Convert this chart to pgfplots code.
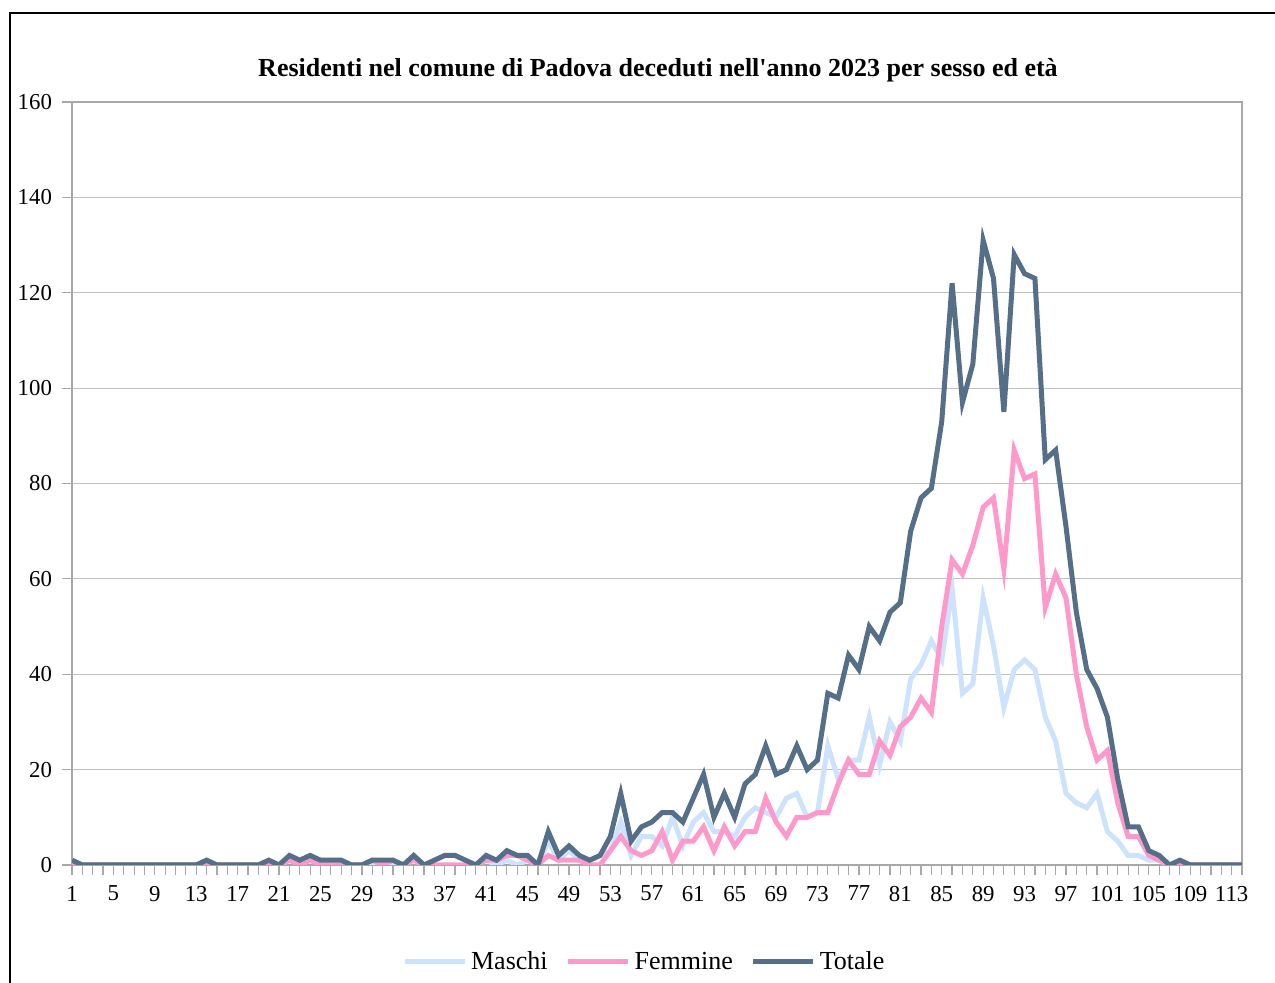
\documentclass[border=0pt]{standalone}
\usepackage{fontspec}
\setmainfont{Liberation Serif}
\usepackage{pgfplots}
\usepackage{pgfplotstable}
\pgfplotsset{compat=1.18}

\definecolor{maschi}{RGB}{205,227,253}
\definecolor{femmine}{RGB}{255,153,204}
\definecolor{totale}{RGB}{85,111,136}
\definecolor{gridgray}{RGB}{192,192,192}
\definecolor{axisgray}{RGB}{168,168,168}

% eta = category index, M = maschi, F = femmine, T = totale
\pgfplotstableread{
k M F T
1 1 0 1
2 0 0 0
3 0 0 0
4 0 0 0
5 0 0 0
6 0 0 0
7 0 0 0
8 0 0 0
9 0 0 0
10 0 0 0
11 0 0 0
12 0 0 0
13 0 0 0
14 1 0 1
15 0 0 0
16 0 0 0
17 0 0 0
18 0 0 0
19 0 0 0
20 1 0 1
21 0 0 0
22 1 1 2
23 1 0 1
24 1 1 2
25 1 0 1
26 1 0 1
27 1 0 1
28 0 0 0
29 0 0 0
30 0 1 1
31 1 0 1
32 0 1 1
33 0 0 0
34 1 1 2
35 0 0 0
36 1 0 1
37 2 0 2
38 2 0 2
39 1 0 1
40 0 0 0
41 1 1 2
42 0 1 1
43 1 2 3
44 0 2 2
45 1 1 2
46 0 0 0
47 5 2 7
48 1 1 2
49 3 1 4
50 1 1 2
51 1 0 1
52 2 0 2
53 3 3 6
54 9 6 15
55 2 3 5
56 6 2 8
57 6 3 9
58 4 7 11
59 10 1 11
60 4 5 9
61 9 5 14
62 11 8 19
63 7 3 10
64 7 8 15
65 6 4 10
66 10 7 17
67 12 7 19
68 11 14 25
69 10 9 19
70 14 6 20
71 15 10 25
72 10 10 20
73 11 11 22
74 25 11 36
75 18 17 35
76 22 22 44
77 22 19 41
78 31 19 50
79 21 26 47
80 30 23 53
81 26 29 55
82 39 31 70
83 42 35 77
84 47 32 79
85 43 50 93
86 58 64 122
87 36 61 97
88 38 67 105
89 56 75 131
90 46 77 123
91 33 62 95
92 41 87 128
93 43 81 124
94 41 82 123
95 31 54 85
96 26 61 87
97 15 56 71
98 13 40 53
99 12 29 41
100 15 22 37
101 7 24 31
102 5 13 18
103 2 6 8
104 2 6 8
105 1 2 3
106 1 1 2
107 0 0 0
108 1 0 1
109 0 0 0
110 0 0 0
111 0 0 0
112 0 0 0
113 0 0 0
114 0 0 0
}\deceduti

\begin{document}
\begin{tikzpicture}
\useasboundingbox (-36pt,-59pt) rectangle (601.5pt,432.5pt);
% outer frame of the chart area
\draw[line width=0.6pt] (-31pt,-59pt) -- (-31pt,426pt) -- (601.5pt,426pt);

\node[font=\fontsize{13}{15}\selectfont\bfseries] at (293pt,397.5pt)
  {Residenti nel comune di Padova deceduti nell\textquotesingle anno 2023 per sesso ed età};

\begin{axis}[
    at={(0,0)}, anchor=south west,
    scale only axis, width=585pt, height=381.5pt,
    xmin=1, xmax=114, ymin=0, ymax=160,
    xtick={1,5,...,113},
    minor xtick={2,...,114},
    ytick={0,20,...,160},
    ymajorgrids,
    major grid style={draw=gridgray, line width=0.6pt},
    axis line style={draw=axisgray, line width=0.6pt},
    tick style={draw=axisgray, line width=0.6pt},
    tick align=outside,
    major tick length=5pt, minor tick length=5pt,
    xtick pos=bottom, ytick pos=left,
    /pgf/number format/assume math mode=true,
    ticklabel style={font=\fontsize{11.4}{13}\selectfont},
    xticklabel style={yshift=-2pt},
    yticklabel style={xshift=-1.5pt},
    legend columns=3,
    legend style={draw=none, fill=none, at={(0.49,-0.127)}, anchor=center,
      font=\fontsize{13}{15}\selectfont, /tikz/every even column/.append style={column sep=7pt}},
    legend image code/.code={\draw[#1] (0pt,0pt) -- (30pt,0pt);},
  ]
  \addplot[maschi, line width=2.5pt] table[x=k, y=M] {\deceduti};
  \addlegendentry{Maschi}
  \addplot[femmine, line width=2.5pt] table[x=k, y=F] {\deceduti};
  \addlegendentry{Femmine}
  \addplot[totale, line width=2.5pt] table[x=k, y=T] {\deceduti};
  \addlegendentry{Totale}
\end{axis}
\end{tikzpicture}
\end{document}
